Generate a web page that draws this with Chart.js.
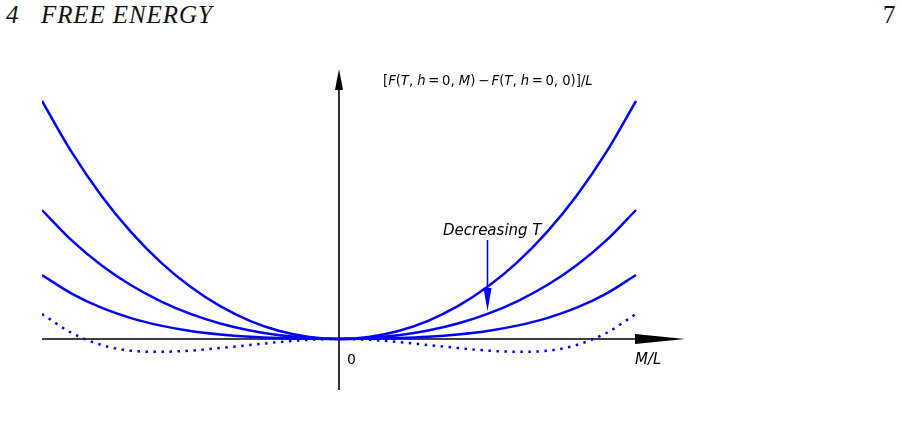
<!DOCTYPE html>
<html>
<head>
<meta charset="utf-8">
<script src="https://cdn.jsdelivr.net/npm/chart.js@4.4.0/dist/chart.umd.min.js"></script>
<style>
  body { margin: 0; background: #fff; }
  #wrap { position: relative; width: 902px; height: 441px; }
  .hdr { position: absolute; font-family: "Liberation Serif", serif; font-size: 25px; color: #111; }
  canvas { position: absolute; left: 0; top: 0; }
</style>
</head>
<body>
<div id="wrap">
  <div class="hdr" style="left:6px; top:1px; font-style:italic;">4</div>
  <div class="hdr" style="left:41px; top:1px; font-style:italic; letter-spacing:0.9px;">FREE ENERGY</div>
  <div class="hdr" style="left:883px; top:1px;">7</div>
  <canvas id="chart" width="902" height="441"></canvas>
</div>
<script>
// magnetisation per site, M/L
const mVals = [-1.0, -0.9, -0.8, -0.7, -0.6, -0.5, -0.4, -0.3, -0.2, -0.1, 0,
               0.1, 0.2, 0.3, 0.4, 0.5, 0.6, 0.7, 0.8, 0.9, 1.0];

// free energy difference for each temperature (highest T first)
const fHigh = [238, 186.8, 143.3, 106.9, 76.7, 52.2, 32.8, 18.2, 8.0, 2.0, 0,
               2.0, 8.0, 18.2, 32.8, 52.2, 76.7, 106.9, 143.3, 186.8, 238];
const fMid = [129, 98.6, 73.8, 53.7, 37.7, 25.1, 15.5, 8.5, 3.7, 0.9, 0,
              0.9, 3.7, 8.5, 15.5, 25.1, 37.7, 53.7, 73.8, 98.6, 129];
const fLow = [64, 45.4, 31.3, 20.9, 13.4, 8.1, 4.6, 2.3, 0.95, 0.22, 0,
              0.22, 0.95, 2.3, 4.6, 8.1, 13.4, 20.9, 31.3, 45.4, 64];
// below the critical temperature (dotted)
const fBelow = [25, 6.0, -6.0, -11.8, -12.8, -11.6, -9.0, -6.0, -3.0, -0.8, 0,
                -0.8, -3.0, -6.0, -9.0, -11.6, -12.8, -11.8, -6.0, 6.0, 25];

const blue = "#0000ff";
const toPts = arr => arr.map((v, i) => ({ x: mVals[i], y: v }));

function arrowHead(ctx, x, y, dir, len, half) {
  ctx.beginPath();
  if (dir === "up") {
    ctx.moveTo(x, y); ctx.lineTo(x - half, y + len); ctx.lineTo(x + half, y + len);
  } else if (dir === "down") {
    ctx.moveTo(x, y); ctx.lineTo(x - half, y - len); ctx.lineTo(x + half, y - len);
  } else {
    ctx.moveTo(x, y); ctx.lineTo(x - len, y - half); ctx.lineTo(x - len, y + half);
  }
  ctx.closePath();
  ctx.fill();
}

// draws [text, italic] pieces one after another
function mixedText(ctx, parts, x, y, size) {
  let cx = x;
  parts.forEach(([t, it]) => {
    ctx.font = (it ? "italic " : "") + size + "px 'DejaVu Sans'";
    ctx.fillText(t, cx, y);
    cx += ctx.measureText(t).width;
  });
}

const axesPlugin = {
  id: "axes",
  beforeDatasetsDraw(chart) {
    const { ctx, scales: { x, y } } = chart;
    const x0 = x.getPixelForValue(0), y0 = y.getPixelForValue(0);
    ctx.save();
    ctx.strokeStyle = "#000"; ctx.fillStyle = "#000"; ctx.lineWidth = 1.6;
    // horizontal axis
    ctx.beginPath();
    ctx.moveTo(x.getPixelForValue(-1), y0);
    ctx.lineTo(x.right - 40, y0);
    ctx.stroke();
    arrowHead(ctx, x.right, y0, "right", 50, 5);
    // vertical axis
    ctx.beginPath();
    ctx.moveTo(x0, y.bottom);
    ctx.lineTo(x0, y.top + 15);
    ctx.stroke();
    arrowHead(ctx, x0, y.top, "up", 21, 4);
    ctx.restore();
  },
  afterDatasetsDraw(chart) {
    const { ctx, scales: { x, y } } = chart;
    const x0 = x.getPixelForValue(0), y0 = y.getPixelForValue(0);
    const th = "\u2009";
    ctx.save();
    ctx.fillStyle = "#000";
    ctx.textBaseline = "alphabetic";
    mixedText(ctx, [["[", 0], ["F", 1], ["(", 0], ["T", 1], [", ", 0], ["h", 1], [th + "=" + th + "0, ", 0],
      ["M", 1], [")" + th + "\u2212" + th, 0], ["F", 1], ["(", 0], ["T", 1], [", ", 0], ["h", 1],
      [th + "=" + th + "0, 0)]/", 0], ["L", 1]], x0 + 44, y.top + 16, 13.2);
    mixedText(ctx, [["0", 0]], x0 + 8, y0 + 25, 14);
    mixedText(ctx, [["M/L", 1]], x.getPixelForValue(1) - 1, y0 + 25, 15);
    mixedText(ctx, [["Decreasing T", 1]], x.getPixelForValue(0.35), y0 - 104, 15);
    // arrow for decreasing temperature
    const ax = x.getPixelForValue(0.5);
    ctx.strokeStyle = blue; ctx.fillStyle = blue; ctx.lineWidth = 1.6;
    ctx.beginPath();
    ctx.moveTo(ax, y0 - 99);
    ctx.lineTo(ax, y0 - 45);
    ctx.stroke();
    arrowHead(ctx, ax, y0 - 28, "down", 23, 4);
    ctx.restore();
  }
};

const lineStyle = { borderColor: blue, borderWidth: 2.5, pointRadius: 0, fill: false,
                    cubicInterpolationMode: "monotone" };

new Chart(document.getElementById("chart"), {
  type: "line",
  data: {
    datasets: [
      { ...lineStyle, data: toPts(fHigh) },
      { ...lineStyle, data: toPts(fMid) },
      { ...lineStyle, data: toPts(fLow) },
      { ...lineStyle, data: toPts(fBelow), borderDash: [2.5, 5.5], borderCapStyle: "butt" }
    ]
  },
  options: {
    responsive: false,
    animation: false,
    layout: { padding: { left: 42, right: 217, top: 69, bottom: 51 } },
    plugins: { legend: { display: false }, tooltip: { enabled: false } },
    scales: {
      x: { type: "linear", min: -1, max: 1.165, display: false },
      y: { min: -51, max: 270, display: false }
    }
  },
  plugins: [axesPlugin]
});
</script>
</body>
</html>
